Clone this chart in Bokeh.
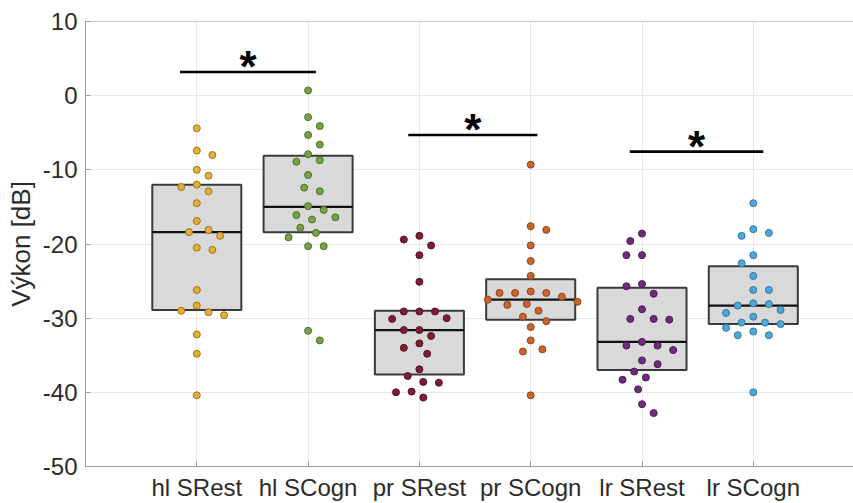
from bokeh.plotting import figure
from bokeh.models import Range1d, FixedTicker, Span, ColumnDataSource
from bokeh.core.properties import value
from bokeh.embed import file_html
from bokeh.resources import INLINE

# --- data -------------------------------------------------------------
categories = ["hl SRest", "hl SCogn", "pr SRest", "pr SCogn", "lr SRest", "lr SCogn"]
y_ticks = [-50, -40, -30, -20, -10, 0, 10]

hl_srest = [-4.4, -7.4, -8.0, -10.0, -10.8, -12.0, -12.3, -12.9, -14.5, -16.9, -18.1, -18.4,
            -18.9, -20.5, -20.8, -26.2, -28.3, -29.0, -29.2, -29.6, -32.2, -34.8, -40.4]
hl_scogn = [0.7, -2.9, -4.1, -5.3, -6.6, -7.9, -8.7, -8.9, -10.7, -12.4, -12.9, -14.9,
            -15.4, -16.1, -16.4, -16.7, -17.8, -18.5, -19.1, -20.3, -20.3, -31.7, -33.0]
pr_srest = [-18.9, -19.4, -20.2, -21.5, -25.1, -29.1, -29.1, -29.1, -30.0, -30.1, -31.6, -31.6,
            -32.4, -33.4, -34.0, -34.8, -36.9, -37.8, -38.6, -38.7, -39.9, -40.0, -40.7]
pr_scogn = [-9.3, -17.6, -18.1, -20.2, -22.3, -24.3, -26.4, -26.6, -26.6, -26.6, -27.1, -27.5,
            -27.8, -28.1, -28.2, -29.0, -29.8, -30.4, -31.2, -33.0, -34.2, -34.5, -40.4]
lr_srest = [-18.6, -19.6, -21.5, -21.5, -25.4, -25.7, -26.7, -28.8, -30.1, -30.1, -30.2, -33.2,
            -33.7, -33.7, -34.3, -35.7, -36.2, -37.2, -38.0, -38.3, -39.6, -41.6, -42.8]
lr_scogn = [-14.5, -18.0, -18.5, -18.9, -21.5, -22.6, -24.3, -26.2, -26.2, -28.0, -28.1, -28.3,
            -28.9, -29.3, -29.8, -30.6, -30.6, -30.8, -31.3, -31.8, -32.3, -32.3, -40.0]

# box statistics: upper quartile, median, lower quartile
q3 = [-12.0, -8.1, -29.0, -24.75, -25.9, -23.0]
medians = [-18.4, -15.0, -31.6, -27.5, -33.2, -28.3]
q1 = [-28.9, -18.4, -37.6, -30.2, -37.0, -30.8]

# significance brackets: (start, end, level)
sig_start = [0.85, 2.90, 4.89]
sig_end = [2.07, 4.06, 6.09]
sig_level = [3.2, -5.3, -7.55]

# --- style ------------------------------------------------------------
groups = [hl_srest, hl_scogn, pr_srest, pr_scogn, lr_srest, lr_scogn]
fills = ["#E3AE35", "#76A144", "#7C1D33", "#C9652E", "#6C2C79", "#4FA7D3"]
edges = ["#A0751C", "#4F7128", "#5A1224", "#8F4419", "#4C1B57", "#2F7AA3"]
FONT = "Liberation Sans"
TEXT = "#2b2b2b"

W, H = 853, 503
LEFT, TOP, BOTTOM = 85, 21, 35
X_END = (W - LEFT) / 111.3
PX_X = 111.3
PX_Y = (H - TOP - BOTTOM) / 60.0


def swarm(vals, center, min_px=13.0, step=0.035):
    """Simple beeswarm: spread points sideways until they no longer overlap."""
    placed = []
    xs = [0.0] * len(vals)
    order = sorted(range(len(vals)), key=lambda i: -vals[i])
    for n, i in enumerate(order):
        sign = 1 if n % 2 == 0 else -1
        cands = [0.0]
        for j in range(1, 40):
            cands += [sign * j * step, -sign * j * step]
        for off in cands:
            if all(((off - po) * PX_X) ** 2 + ((vals[i] - pv) * PX_Y) ** 2 >= min_px ** 2
                   for po, pv in placed):
                break
        placed.append((off, vals[i]))
        xs[i] = center + off
    return xs


p = figure(width=W, height=H, output_backend="svg", toolbar_location=None,
           x_range=Range1d(0, X_END), y_range=Range1d(-50, 10),
           min_border_left=LEFT, min_border_right=0, min_border_top=TOP,
           min_border_bottom=BOTTOM)
p.outline_line_color = None
p.background_fill_color = "white"
p.border_fill_color = "white"

# grid
p.xgrid.ticker = FixedTicker(ticks=[1, 2, 3, 4, 5, 6])
p.ygrid.ticker = FixedTicker(ticks=y_ticks)
for g in (p.xgrid, p.ygrid):
    g.grid_line_color = "#e8e8e8"
    g.grid_line_width = 1

# axes
p.xaxis.ticker = FixedTicker(ticks=[1, 2, 3, 4, 5, 6])
p.xaxis.major_label_overrides = {i + 1: c for i, c in enumerate(categories)}
p.yaxis.ticker = FixedTicker(ticks=y_ticks)
p.yaxis.major_label_overrides = {t: str(t) for t in y_ticks}
for ax in (p.xaxis, p.yaxis):
    ax.axis_line_color = "#9a9a9a"
    ax.axis_line_width = 1
    ax.major_tick_line_color = "#9a9a9a"
    ax.major_tick_in = 5
    ax.major_tick_out = 0
    ax.minor_tick_line_color = None
    ax.major_label_text_font = FONT
    ax.major_label_text_color = TEXT
p.xaxis.major_label_text_font_size = "24px"
p.yaxis.major_label_text_font_size = "24px"
p.xaxis.major_label_standoff = 7
p.yaxis.major_label_standoff = 8
p.yaxis.axis_label = "Výkon [dB]"
p.yaxis.axis_label_text_font = FONT
p.yaxis.axis_label_text_font_size = "26px"
p.yaxis.axis_label_text_font_style = "normal"
p.yaxis.axis_label_text_color = TEXT
p.yaxis.axis_label_standoff = 4

p.add_layout(Span(location=10, dimension="width", line_color="#9a9a9a", line_width=1))

# boxes
centers = [1, 2, 3, 4, 5, 6]
box_src = ColumnDataSource(dict(x=centers, top=q3, bottom=q1, med=medians,
                                left=[c - 0.4 for c in centers],
                                right=[c + 0.4 for c in centers]))
p.quad(left="left", right="right", top="top", bottom="bottom", source=box_src,
       fill_color="#d9d9d9", line_color="#3a3a3a", line_width=2)
p.segment(x0="left", x1="right", y0="med", y1="med", source=box_src,
          line_color="#111111", line_width=2.2)

# points
for c, vals, fc, ec in zip(centers, groups, fills, edges):
    p.scatter(swarm(vals, c), vals, size=7, fill_color=fc, line_color=ec, line_width=1)

# significance brackets
sig_src = ColumnDataSource(dict(x0=sig_start, x1=sig_end, y=sig_level,
                                xm=[(a + b) / 2 for a, b in zip(sig_start, sig_end)],
                                t=["*"] * 3))
p.segment(x0="x0", x1="x1", y0="y", y1="y", source=sig_src,
          line_color="black", line_width=2.6)
p.text(x="xm", y="y", text="t", source=sig_src, text_align="center",
       text_baseline="alphabetic", y_offset=-5, text_font=value(FONT),
       text_font_style="bold", text_font_size="44px", text_color="black")

open("out.html", "w").write(file_html(p, INLINE))
